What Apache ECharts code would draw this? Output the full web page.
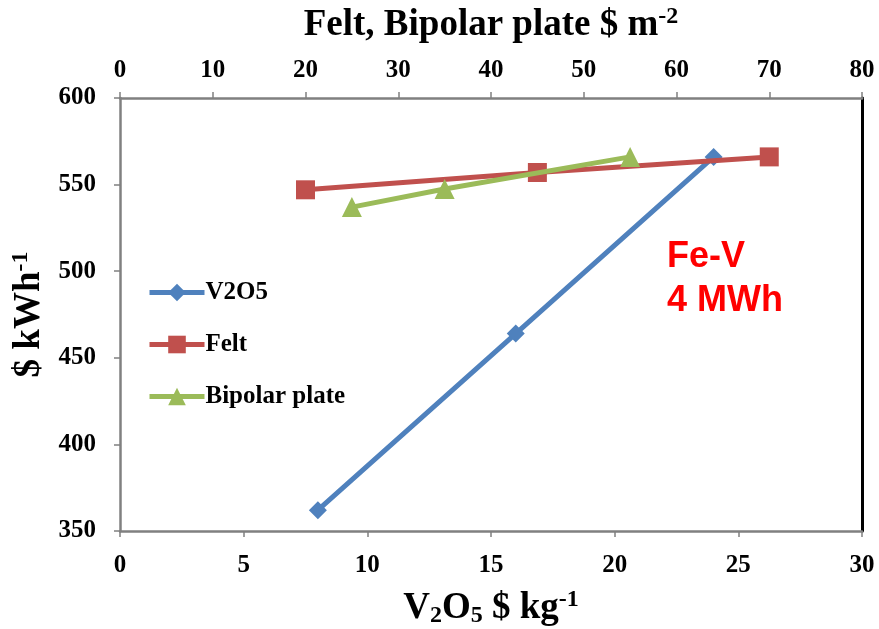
<!DOCTYPE html>
<html><head><meta charset="utf-8">
<script src="https://cdn.jsdelivr.net/npm/echarts@6/dist/echarts.min.js"></script>
<style>html,body{margin:0;padding:0;background:#fff}#c{width:879px;height:629px}</style>
</head><body><div id="c"></div>
<script>
const v2o5X = [8, 16, 24];
const v2o5Y = [362, 464, 566];
const feltX = [20, 45, 70];
const feltY = [547, 557, 566];
const bipolarX = [25, 35, 55];
const bipolarY = [537, 547.5, 566];
const seriesNames = ['V2O5', 'Felt', 'Bipolar plate'];

const serif = '"Liberation Serif", "Times New Roman", serif';
const chart = echarts.init(document.getElementById('c'));
const pair = (xs, ys) => xs.map((x, i) => [x, ys[i]]);
const lblStyle = {fontFamily: serif, fontWeight: 'bold', fontSize: 25, color: '#000'};
const titleRich = {
  b: {fontFamily: serif, fontWeight: 'bold', fontSize: 37, color: '#000'},
  sub: {fontFamily: serif, fontWeight: 'bold', fontSize: 24, color: '#000', padding: [16,0,0,0]},
  sup: {fontFamily: serif, fontWeight: 'bold', fontSize: 24, color: '#000', padding: [0,0,16,0]}
};
chart.setOption({
  animation: false,
  grid: {left: 120, right: 17, top: 98, bottom: 98, containLabel: false, outerBoundsMode: 'none'},
  legend: {
    orient: 'vertical', left: 142, top: 275, itemGap: 27, itemWidth: 55, itemHeight: 22,
    lineStyle: {width: 5},
    textStyle: {fontFamily: serif, fontWeight: 'bold', fontSize: 25, color: '#000', padding: [0,0,0,-4]},
    data: seriesNames
  },
  xAxis: [{
    type: 'value', position: 'bottom', min: 0, max: 30, interval: 5,
    axisLine: {show: true, lineStyle: {color: '#808080', width: 2.5}},
    axisTick: {show: true, length: 6, lineStyle: {color: '#808080', width: 1.5}},
    axisLabel: Object.assign({margin: 22}, lblStyle),
    splitLine: {show: false},
    name: '{b|V}{sub|2}{b|O}{sub|5}{b| $ kg}{sup|-1}', nameLocation: 'middle', nameGap: 57,
    nameTextStyle: {rich: titleRich}
  }, {
    type: 'value', position: 'top', min: 0, max: 80, interval: 10,
    axisLine: {show: true, lineStyle: {color: '#808080', width: 2.5}},
    axisTick: {show: true, length: 6, lineStyle: {color: '#808080', width: 1.5}},
    axisLabel: Object.assign({margin: 15}, lblStyle),
    splitLine: {show: false},
    name: '{b|Felt, Bipolar plate $ m}{sup|-2}', nameLocation: 'middle', nameGap: 53,
    nameTextStyle: {rich: titleRich}
  }],
  yAxis: [{
    type: 'value', min: 350, max: 600, interval: 50,
    axisLine: {show: true, lineStyle: {color: '#808080', width: 2.5}},
    axisTick: {show: true, length: 6, lineStyle: {color: '#808080', width: 1.5}},
    axisLabel: Object.assign({margin: 24}, lblStyle),
    splitLine: {show: false},
    name: '{b|$ kWh}{sup|-1}', nameLocation: 'middle', nameGap: 63, nameRotate: 90,
    nameTextStyle: {rich: titleRich}
  }, {
    type: 'value', position: 'right', min: 350, max: 600, interval: 50,
    axisLine: {show: true, onZero: false, lineStyle: {color: '#000', width: 3}},
    axisTick: {show: false}, axisLabel: {show: false}, splitLine: {show: false}
  }],
  series: [{
    name: seriesNames[0], type: 'line', xAxisIndex: 0, yAxisIndex: 0,
    data: pair(v2o5X, v2o5Y), symbol: 'diamond', symbolSize: 18,
    lineStyle: {color: '#4F81BD', width: 5}, itemStyle: {color: '#4F81BD'}, z: 3
  }, {
    name: seriesNames[1], type: 'line', xAxisIndex: 1, yAxisIndex: 0,
    data: pair(feltX, feltY), symbol: 'rect', symbolSize: 19,
    lineStyle: {color: '#C0504D', width: 5}, itemStyle: {color: '#C0504D'}, z: 4
  }, {
    name: seriesNames[2], type: 'line', xAxisIndex: 1, yAxisIndex: 0,
    data: pair(bipolarX, bipolarY), symbol: 'triangle', symbolSize: 20,
    lineStyle: {color: '#9BBB59', width: 5}, itemStyle: {color: '#9BBB59'}, z: 5
  }],
  graphic: [{
    type: 'text', left: 667, top: 235,
    style: {text: 'Fe-V\n4 MWh', fill: '#FF0000', font: 'bold 36px "Liberation Sans", Arial, sans-serif', lineHeight: 44}
  }]
});
</script></body></html>
